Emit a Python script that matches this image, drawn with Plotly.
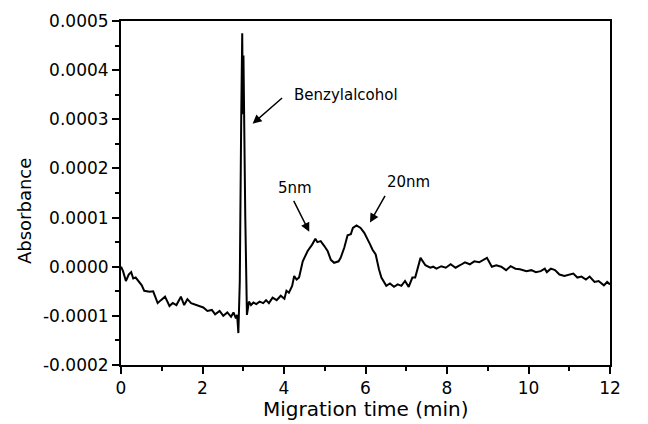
import plotly.graph_objects as go

# Migration time (min)
time_min = [
    0.00, 0.05, 0.12, 0.19, 0.25, 0.30, 0.36, 0.45, 0.51, 0.57, 0.70, 0.79, 0.90, 0.98,
    1.08, 1.19, 1.27, 1.36, 1.47, 1.55, 1.63, 1.72, 1.80, 1.92, 2.02, 2.12, 2.23, 2.31,
    2.42, 2.51, 2.61, 2.70, 2.76, 2.82, 2.85, 2.88, 2.915, 2.95, 2.975, 2.99, 3.005, 3.05,
    3.09, 3.14, 3.19, 3.25, 3.32, 3.40, 3.49, 3.56, 3.63, 3.72, 3.82, 3.92, 4.01, 4.06,
    4.12, 4.20, 4.25, 4.31, 4.37, 4.46, 4.58, 4.69, 4.77, 4.82, 4.90, 4.99, 5.07, 5.15,
    5.23, 5.34, 5.39, 5.48, 5.56, 5.64, 5.69, 5.78, 5.88, 5.97, 6.04, 6.11, 6.17, 6.25,
    6.33, 6.39, 6.51, 6.60, 6.70, 6.79, 6.88, 6.97, 7.06, 7.15, 7.22, 7.29, 7.35, 7.47,
    7.59, 7.66, 7.74, 7.86, 7.97, 8.09, 8.21, 8.32, 8.44, 8.56, 8.67, 8.79, 8.90, 8.98,
    9.10, 9.21, 9.33, 9.45, 9.56, 9.68, 9.79, 9.95, 10.07, 10.18, 10.30, 10.40, 10.45,
    10.55, 10.65, 10.76, 10.88, 11.00, 11.10, 11.20, 11.30, 11.41, 11.50, 11.62, 11.72,
    11.85, 11.93, 12.00,
]

# Absorbance in units of 1e-5
absorbance_e5 = [
    0.0, -0.9, -2.9, -1.6, -1.1, -2.4, -2.2, -3.1, -3.8, -4.9, -5.1, -5.0, -7.4, -6.8,
    -6.1, -8.0, -7.4, -7.8, -6.1, -7.8, -6.6, -7.4, -7.6, -8.0, -8.3, -9.0, -8.8, -9.7,
    -9.0, -10.0, -9.3, -10.2, -9.3, -10.5, -9.8, -13.5, -3.0, 30.0, 47.5, 31.0, 43.0, 10.0,
    -9.8, -7.1, -7.8, -7.3, -7.6, -7.1, -7.4, -6.8, -7.4, -6.3, -6.8, -5.9, -6.5, -4.9,
    -5.3, -3.9, -1.9, -2.6, -2.2, 1.1, 3.2, 4.5, 5.7, 5.0, 5.2, 4.2, 3.2, 1.4,
    0.8, 1.1, 1.8, 3.9, 6.4, 6.6, 7.9, 8.4, 7.9, 6.9, 5.9, 4.6, 3.5, 2.5,
    -0.5, -2.2, -3.9, -3.4, -4.1, -3.6, -3.9, -2.9, -4.1, -2.2, -2.2, 0.1, 1.8, 0.3,
    -0.2, 0.0, -0.4, 0.1, -0.2, 0.5, -0.2, 0.3, 0.9, 0.5, 1.1, 0.9, 1.4, 1.8,
    0.0, 0.3, 0.0, -0.7, 0.1, -0.4, -0.5, -0.9, -0.7, -1.1, -0.9, -0.4, -1.1,
    -0.4, -0.7, -1.6, -1.9, -1.6, -1.4, -2.2, -2.0, -2.6, -2.0, -3.1, -2.9,
    -3.8, -3.1, -3.6,
]
absorbance = [v * 1e-5 for v in absorbance_e5]

y_tick_vals = [-0.0002, -0.0001, 0.0, 0.0001, 0.0002, 0.0003, 0.0004, 0.0005]
y_tick_text = ["-0.0002", "-0.0001", "0.0000", "0.0001", "0.0002", "0.0003", "0.0004", "0.0005"]
x_tick_vals = [0, 2, 4, 6, 8, 10, 12]
x_tick_text = ["0", "2", "4", "6", "8", "10", "12"]
x_title = "Migration time (min)"
y_title = "Absorbance"

# annotations: label, text position, arrow tail, arrow head
labels = ["Benzylalcohol", "5nm", "20nm"]
label_x = [4.19, 4.28, 7.05]
label_y = [0.000350, 0.000160, 0.000172]
label_anchor = ["left", "center", "center"]
arrow_tail_x = [3.99, 4.22, 6.50]
arrow_tail_y = [0.000346, 0.000137, 0.000147]
arrow_head_x = [3.23, 4.62, 6.11]
arrow_head_y = [0.000291, 0.000071, 0.000090]

FONT = "DejaVu Sans"

fig = go.Figure()
fig.add_trace(go.Scatter(
    x=time_min, y=absorbance, mode="lines",
    line=dict(color="black", width=2), showlegend=False,
))

for i, lab in enumerate(labels):
    fig.add_annotation(
        x=label_x[i], y=label_y[i], xref="x", yref="y", text=lab,
        showarrow=False, xanchor=label_anchor[i], yanchor="middle",
        font=dict(family=FONT, size=15, color="black"),
    )
    fig.add_annotation(
        x=arrow_head_x[i], y=arrow_head_y[i], ax=arrow_tail_x[i], ay=arrow_tail_y[i],
        xref="x", yref="y", axref="x", ayref="y", text="",
        showarrow=True, arrowhead=2, arrowsize=1.2, arrowwidth=1.5, arrowcolor="black",
    )

# axis titles placed as paper annotations so margins stay fixed
fig.add_annotation(
    x=0.5, y=-0.128, xref="paper", yref="paper", text=x_title, showarrow=False,
    xanchor="center", yanchor="middle", font=dict(family=FONT, size=20, color="black"),
)
fig.add_annotation(
    x=-0.196, y=0.448, xref="paper", yref="paper", text=y_title, showarrow=False,
    textangle=-90, xanchor="center", yanchor="middle",
    font=dict(family=FONT, size=18, color="black"),
)

axis_common = dict(
    showline=True, linecolor="black", linewidth=2, mirror=True,
    ticks="outside", tickcolor="black", tickwidth=1.5, ticklen=7,
    showgrid=False, zeroline=False, automargin=False,
    tickfont=dict(family=FONT, size=17, color="black"),
)

fig.update_xaxes(
    range=[0, 12], tickvals=x_tick_vals, ticktext=x_tick_text,
    minor=dict(ticks="outside", dtick=1, tick0=0, ticklen=4, tickwidth=1.5, tickcolor="black"),
    **axis_common,
)
fig.update_yaxes(
    range=[-0.0002, 0.0005], tickvals=y_tick_vals, ticktext=y_tick_text,
    minor=dict(ticks="outside", dtick=0.00005, tick0=0, ticklen=4, tickwidth=1.5, tickcolor="black"),
    **axis_common,
)

# The page body keeps the browser's default 8px margin, so margins are
# reduced by 8px on the top/left to place the plot area like the reference.
fig.update_layout(
    width=648, height=424,
    margin=dict(l=113, r=46, t=13, b=67),
    paper_bgcolor="white", plot_bgcolor="white",
)

fig.write_html("out.html")
